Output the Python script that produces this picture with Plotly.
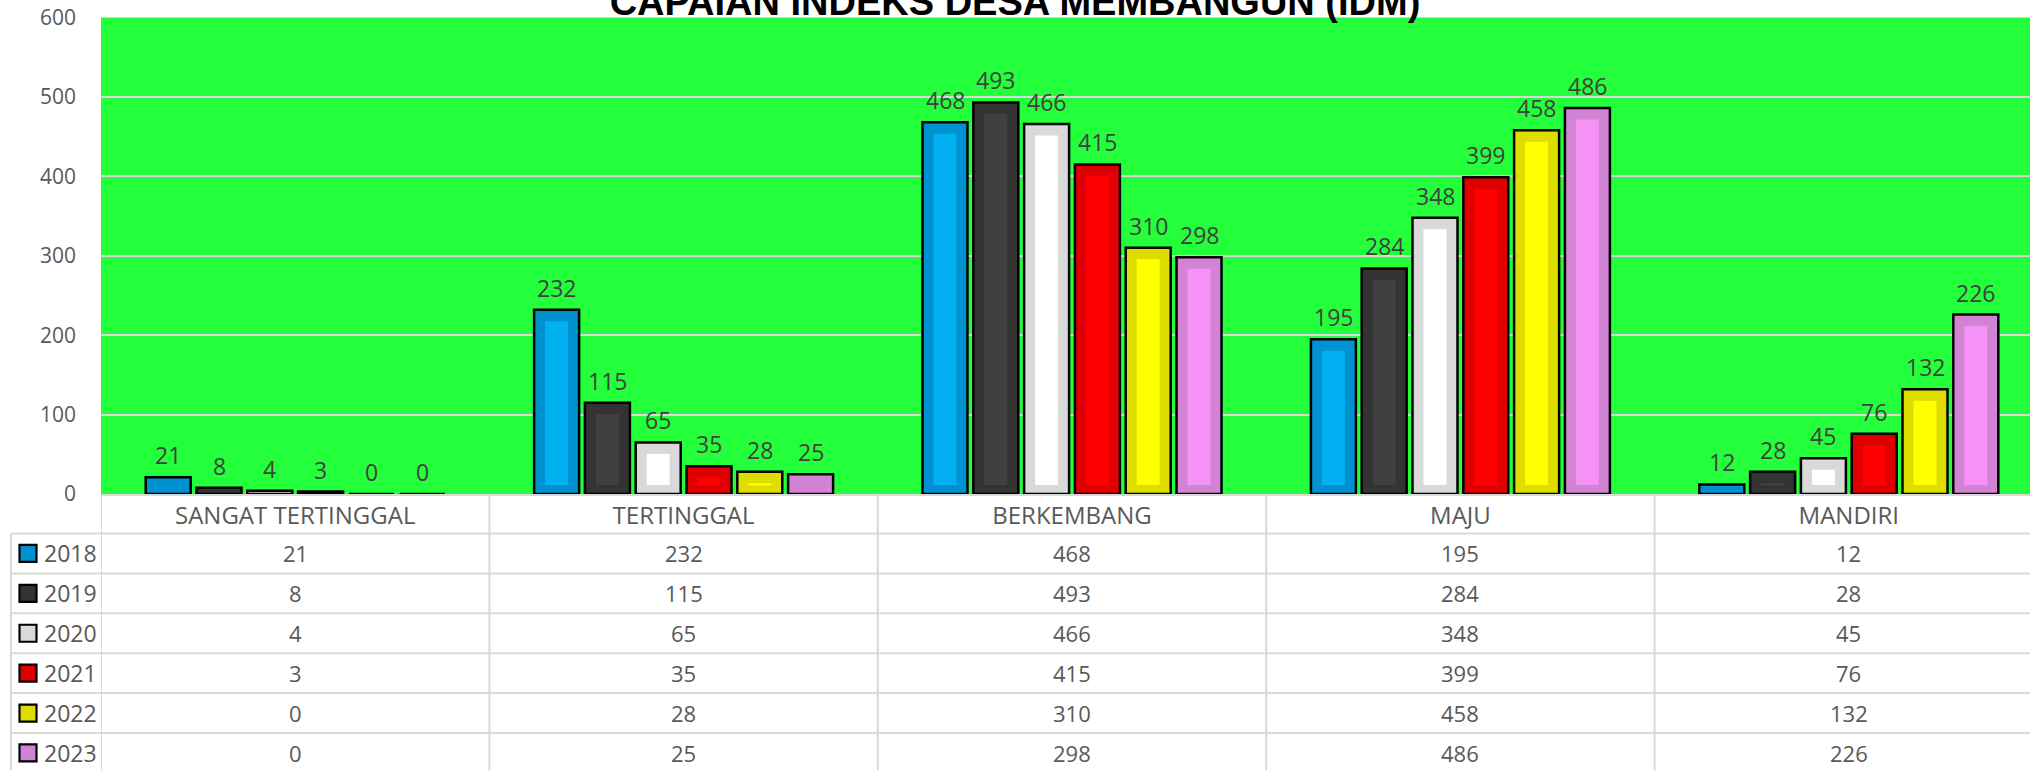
import plotly.graph_objects as go

# ---------------- data ----------------
categories = ["SANGAT TERTINGGAL", "TERTINGGAL", "BERKEMBANG", "MAJU", "MANDIRI"]
years = ["2018", "2019", "2020", "2021", "2022", "2023"]
v2018 = [21, 232, 468, 195, 12]
v2019 = [8, 115, 493, 284, 28]
v2020 = [4, 65, 466, 348, 45]
v2021 = [3, 35, 415, 399, 76]
v2022 = [0, 28, 310, 458, 132]
v2023 = [0, 25, 298, 486, 226]
series = [v2018, v2019, v2020, v2021, v2022, v2023]
y_ticks = [0, 100, 200, 300, 400, 500, 600]

title_text = "CAPAIAN INDEKS DESA MEMBANGUN (IDM)"

# ---------------- styles ----------------
outer_colors = ["#0091D0", "#333333", "#D9D9D9", "#DE0000", "#DDDD00", "#D383D3"]
inner_colors = ["#00B0F0", "#404040", "#FFFFFF", "#FF0000", "#FFFF00", "#F592F5"]
GREEN = "#23FF3A"
GRID = "#D9D9D9"
TXT = "#595959"
LBL = "#404040"
FONT = "Open Sans"

W, H = 2030, 770
def py(p):
    return 1 - p / H
def px(p):
    return p / W

plot_left, plot_top, plot_bottom = 101, 17.5, 494
cat_w = 388.4
slot = 50.8 / cat_w
bar_w = 45.0 / cat_w
inner_w = 23.0 / cat_w
units_per_px = 600 / (plot_bottom - plot_top)
inner_base = 9 * units_per_px
inner_top_inset = 11.5 * units_per_px

fig = go.Figure()

# outer bars
for i, (yr, vals) in enumerate(zip(years, series)):
    c = (i - 2.5) * slot
    fig.add_trace(go.Bar(
        x=categories, y=vals, name=yr,
        width=bar_w, offset=c - bar_w / 2,
        marker=dict(color=outer_colors[i], line=dict(color="#000000", width=2.5)),
        hoverinfo="skip", showlegend=False,
    ))

# inner (bevel) bars
for i, vals in enumerate(series):
    c = (i - 2.5) * slot
    heights = [(v - inner_top_inset - inner_base) if (v - inner_top_inset - inner_base) > 0 else None for v in vals]
    fig.add_trace(go.Bar(
        x=categories, y=heights, base=inner_base,
        width=inner_w, offset=c - inner_w / 2,
        marker=dict(color=inner_colors[i], line=dict(width=0)),
        hoverinfo="skip", showlegend=False,
    ))

annotations = []
# data labels
for i, vals in enumerate(series):
    c = (i - 2.5) * slot
    for ci, v in enumerate(vals):
        annotations.append(dict(
            x=ci + c, y=v, xref="x", yref="y", text=str(v), showarrow=False,
            yanchor="middle", yshift=22,
            font=dict(family=FONT, size=23, color=LBL),
        ))

# data table
row_top = 533.5
row_h = 39.9
for r, (yr, vals) in enumerate(zip(years, series)):
    yc = row_top + row_h * (r + 0.5)
    annotations.append(dict(
        x=px(42), y=py(yc), xref="paper", yref="paper", text=yr, showarrow=False,
        xanchor="left", yanchor="middle",
        font=dict(family=FONT, size=23, color=TXT),
    ))
    for ci, v in enumerate(vals):
        annotations.append(dict(
            x=ci, y=py(yc), xref="x", yref="paper", text=str(v), showarrow=False,
            xanchor="center", yanchor="middle",
            font=dict(family=FONT, size=22, color=TXT),
        ))

shapes = []
# table horizontal lines
shapes.append(dict(type="line", xref="paper", yref="paper", x0=px(plot_left), x1=1,
                   y0=py(plot_bottom + 1), y1=py(plot_bottom + 1), line=dict(color=GRID, width=2)))
for r in range(len(years)):
    yy = row_top + row_h * r
    shapes.append(dict(type="line", xref="paper", yref="paper", x0=px(11), x1=1,
                       y0=py(yy), y1=py(yy), line=dict(color=GRID, width=2)))
# table vertical lines
shapes.append(dict(type="line", xref="paper", yref="paper", x0=px(11), x1=px(11),
                   y0=py(row_top), y1=0, line=dict(color=GRID, width=2)))
for ci in range(len(categories)):
    shapes.append(dict(type="line", xref="x", yref="paper", x0=ci - 0.5, x1=ci - 0.5,
                       y0=py(plot_bottom), y1=0, line=dict(color=GRID, width=2)))
# legend keys
for r in range(len(years)):
    yc = row_top + row_h * (r + 0.5)
    shapes.append(dict(type="rect", xref="paper", yref="paper",
                       x0=px(19.5), x1=px(36.5), y0=py(yc - 8.5), y1=py(yc + 8.5),
                       fillcolor=outer_colors[r], line=dict(color="#000000", width=2.2)))

fig.update_layout(
    width=W, height=H,
    margin=dict(l=0, r=0, t=0, b=0, autoexpand=False),
    paper_bgcolor="#FFFFFF",
    plot_bgcolor=GREEN,
    barmode="overlay",
    showlegend=False,
    title=dict(text=title_text, x=0.5, xanchor="center", xref="paper",
               y=py(1.5), yref="container", yanchor="middle",
               font=dict(family="Liberation Sans Narrow, Arial Narrow, Liberation Sans, Arial",
                         size=38, color="#000000", weight="bold")),
    xaxis=dict(
        domain=[px(plot_left), 1],
        range=[-0.5, -0.5 + (W - plot_left) / cat_w],
        type="category", automargin=False,
        showgrid=False, zeroline=False, showline=False,
        ticks="", ticklabelstandoff=5,
        tickfont=dict(family=FONT, size=24, color=TXT),
        fixedrange=True,
    ),
    yaxis=dict(
        domain=[py(plot_bottom), py(plot_top)],
        range=[0, 600], automargin=False,
        tickvals=y_ticks,
        showgrid=True, gridcolor=GRID, gridwidth=1.5,
        zeroline=False, showline=False,
        ticks="", ticklabelstandoff=24,
        tickfont=dict(family=FONT, size=21, color=TXT),
        fixedrange=True,
    ),
    annotations=annotations,
    shapes=shapes,
)

fig.write_html("out.html", config={"displayModeBar": False},
               post_script="document.body.style.margin='0';document.body.style.padding='0';")
